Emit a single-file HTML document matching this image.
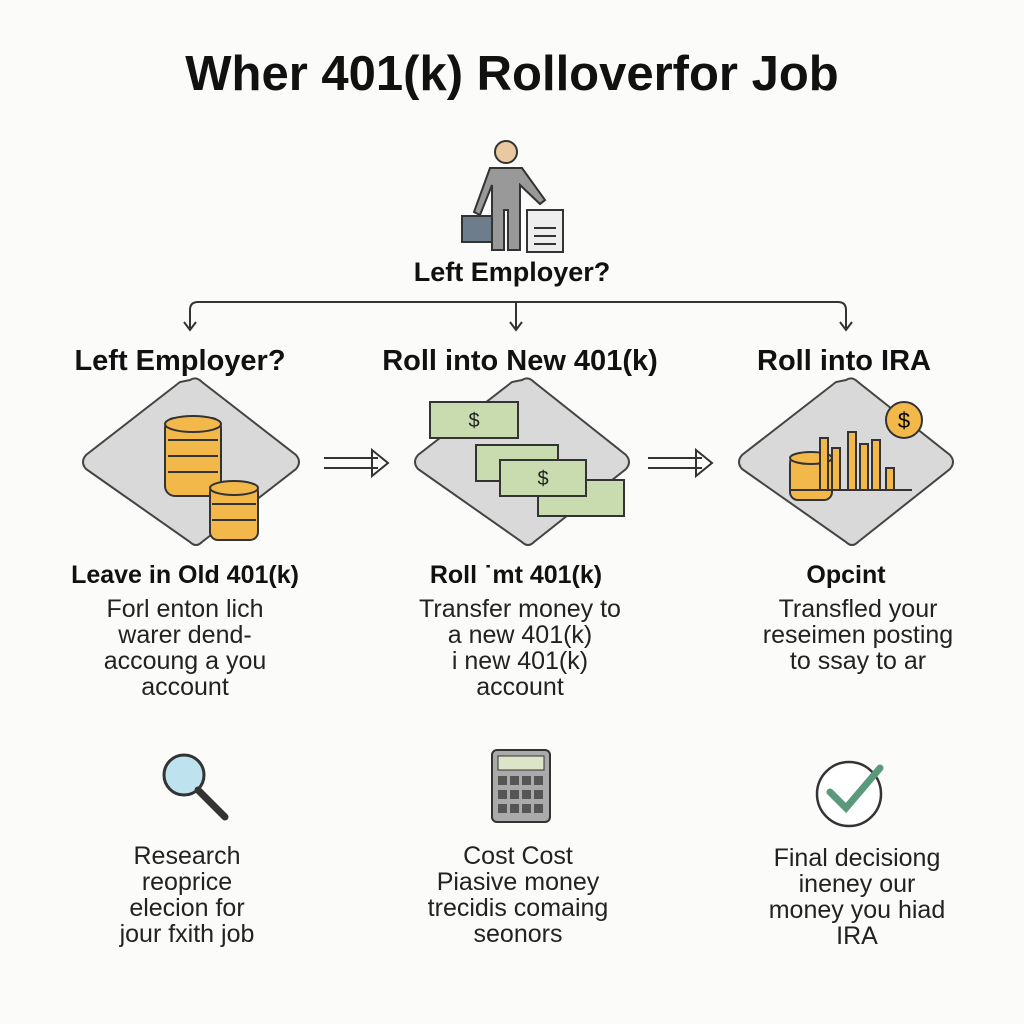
<!DOCTYPE html>
<html><head><meta charset="utf-8"><style>
body{margin:0;width:1024px;height:1024px;background:#fbfbfa;font-family:"Liberation Sans",sans-serif;position:relative;overflow:hidden;color:#111}
.t{position:absolute;text-align:center;white-space:nowrap}
.h{font-weight:bold;font-size:29px}
.b{font-size:25px;line-height:26px;color:#222}
</style></head><body>
<div class="t" style="left:0;width:1024px;top:46px;font-size:49px;font-weight:bold">Wher 401(k) Rolloverfor Job</div>
<svg width="1024" height="1024" style="position:absolute;left:0;top:0">
<g stroke="#333" stroke-width="2" fill="none">
<path d="M190 328 V310 Q190 302 198 302 H838 Q846 302 846 310 V328"/>
<path d="M516 302 V330"/>
<path d="M184 322 L190 330 L196 322 M510 322 L516 330 L522 322 M840 322 L846 330 L852 322"/>
<path d="M324 458 H378 M324 468 H378 M372 450 L388 463 L372 476 Z" fill="#fff"/>
<path d="M648 458 H702 M648 468 H702 M696 450 L712 463 L696 476 Z" fill="#fff"/>
</g>
<circle cx="506" cy="152" r="11" fill="#e8c9a0" stroke="#333" stroke-width="2"/>
<path d="M490 168 H522 L545 200 L540 204 L520 185 V250 H508 V210 H504 V250 H492 V185 L480 215 L474 212 Z" fill="#999" stroke="#333" stroke-width="2"/>
<rect x="462" y="216" width="30" height="26" fill="#6e7d8c" stroke="#333" stroke-width="2"/>
<rect x="527" y="210" width="36" height="42" fill="#eee" stroke="#333" stroke-width="2"/>
<path d="M534 228 H556 M534 236 H556 M534 244 H556" stroke="#333" stroke-width="2"/>
<g fill="#d9d9d9" stroke="#444" stroke-width="2">
<path d="M190 380 Q196 376 202 382 L296 455 Q302 462 296 469 L202 542 Q196 548 190 542 L86 469 Q80 462 86 455 L180 382 Z"/>
<path d="M522 380 Q528 376 534 382 L626 455 Q632 462 626 469 L534 542 Q528 548 522 542 L418 469 Q412 462 418 455 L512 382 Z"/>
<path d="M846 380 Q852 376 858 382 L950 455 Q956 462 950 469 L858 542 Q852 548 846 542 L742 469 Q736 462 742 455 L836 382 Z"/>
</g>
<g fill="#f2b94a" stroke="#333" stroke-width="2">
<rect x="165" y="418" width="56" height="78" rx="10"/>
<ellipse cx="193" cy="424" rx="28" ry="8"/>
<path d="M168 440 H218 M168 456 H218 M168 472 H218" />
<rect x="210" y="484" width="48" height="56" rx="8"/>
<ellipse cx="234" cy="488" rx="24" ry="7"/>
<path d="M212 504 H256 M212 520 H256"/>
<rect x="790" y="455" width="42" height="45" rx="8"/>
<ellipse cx="811" cy="458" rx="21" ry="6"/>
<rect x="820" y="438" width="8" height="52"/><rect x="832" y="448" width="8" height="42"/><rect x="848" y="432" width="8" height="58"/><rect x="860" y="444" width="8" height="46"/><rect x="872" y="440" width="8" height="50"/><rect x="886" y="468" width="8" height="22"/>
<circle cx="904" cy="420" r="18"/>
</g>
<path d="M790 490 H912" stroke="#333" stroke-width="2"/>
<text x="904" y="428" font-size="22" text-anchor="middle" font-family="Liberation Sans">$</text>
<g fill="#c9dcb0" stroke="#333" stroke-width="2">
<rect x="430" y="402" width="88" height="36"/>
<rect x="476" y="445" width="82" height="36"/>
<rect x="538" y="480" width="86" height="36"/>
<rect x="500" y="460" width="86" height="36"/>
</g>
<g font-family="Liberation Sans" font-size="20" text-anchor="middle" fill="#222"><text x="474" y="427">$</text><text x="543" y="485">$</text></g>
<circle cx="184" cy="775" r="20" fill="#bfe3ee" stroke="#333" stroke-width="3"/>
<path d="M198 790 L225 817" stroke="#333" stroke-width="7" stroke-linecap="round"/>
<rect x="492" y="750" width="58" height="72" rx="5" fill="#aaa" stroke="#333" stroke-width="2"/>
<rect x="498" y="756" width="46" height="14" fill="#dde5c8" stroke="#333"/>
<g fill="#555"><rect x="498" y="776" width="9" height="9"/><rect x="510" y="776" width="9" height="9"/><rect x="522" y="776" width="9" height="9"/><rect x="534" y="776" width="9" height="9"/><rect x="498" y="790" width="9" height="9"/><rect x="510" y="790" width="9" height="9"/><rect x="522" y="790" width="9" height="9"/><rect x="534" y="790" width="9" height="9"/><rect x="498" y="804" width="9" height="9"/><rect x="510" y="804" width="9" height="9"/><rect x="522" y="804" width="9" height="9"/><rect x="534" y="804" width="9" height="9"/></g>
<circle cx="849" cy="794" r="32" fill="#fff" stroke="#333" stroke-width="2.5"/>
<path d="M830 792 L846 808 L880 768" stroke="#5a9a7a" stroke-width="7" fill="none" stroke-linecap="round"/>
</svg>
<div class="t h" style="left:0;width:1024px;top:257px;font-size:27px">Left Employer?</div>
<div class="t h" style="left:20px;width:320px;top:345px">Left Employer?</div>
<div class="t h" style="left:360px;width:320px;top:345px">Roll into New 401(k)</div>
<div class="t h" style="left:684px;width:320px;top:345px">Roll into IRA</div>
<div class="t h" style="left:25px;width:320px;top:561px;font-size:25px">Leave in Old 401(k)</div>
<div class="t h" style="left:356px;width:320px;top:561px;font-size:25px">Roll ˙mt 401(k)</div>
<div class="t h" style="left:686px;width:320px;top:561px;font-size:25px">Opcint</div>
<div class="t b" style="left:25px;width:320px;top:596px">Forl enton lich<br>warer dend-<br>accoung a you<br>account</div>
<div class="t b" style="left:360px;width:320px;top:596px">Transfer money to<br>a new 401(k)<br>i new 401(k)<br>account</div>
<div class="t b" style="left:698px;width:320px;top:596px">Transfled your<br>reseimen posting<br>to ssay to ar</div>
<div class="t b" style="left:27px;width:320px;top:843px">Research<br>reoprice<br>elecion for<br>jour fxith job</div>
<div class="t b" style="left:358px;width:320px;top:843px">Cost Cost<br>Piasive money<br>trecidis comaing<br>seonors</div>
<div class="t b" style="left:697px;width:320px;top:845px">Final decisiong<br>ineney our<br>money you hiad<br>IRA</div>
</body></html>
